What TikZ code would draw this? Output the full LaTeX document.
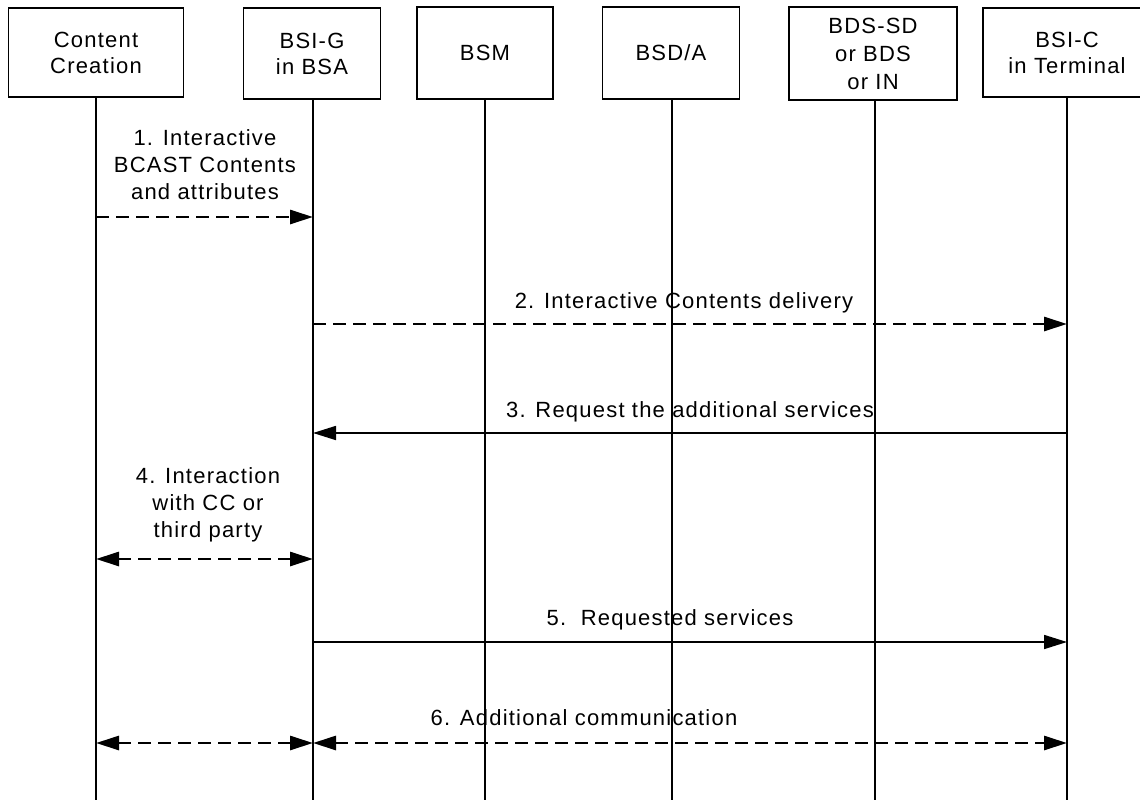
\documentclass[tikz,border=0pt]{standalone}
\usepackage{fontspec}
\setmainfont{Liberation Sans}[LetterSpace=5.5]
\usetikzlibrary{arrows.meta}
\tikzset{
  box/.style={draw, line width=1.9pt, inner sep=0pt, align=center,
    font=\fontsize{22}{26}\selectfont},
  life/.style={line width=1.8pt},
  tip/.style={-{Triangle[length=23pt,width=14pt]}},
  dtip/.style={{Triangle[length=23pt,width=14pt]}-{Triangle[length=23pt,width=14pt]}},
  msg/.style={line width=1.7pt},
  dmsg/.style={line width=2.8pt, dash pattern=on 13pt off 7pt},
  lbl/.style={inner sep=0pt, align=center, anchor=base,
    font=\fontsize{22}{27}\selectfont}
}
\begin{document}
\begin{tikzpicture}[x=1pt,y=-1pt]
\clip (0,0) rectangle (1140,800);
\useasboundingbox (0,0) rectangle (1140,800);
% boxes
\node[box, minimum width=175pt, minimum height=89pt] (cc) at (96,52.5) {Content\\Creation};
\node[box, minimum width=137pt, minimum height=91pt] (bsig) at (312,53.5) {BSI-G\\in BSA};
\node[box, minimum width=136pt, minimum height=92pt] (bsm) at (485,53) {BSM};
\node[box, minimum width=137pt, minimum height=92pt] (bsd) at (671,53) {BSD/A};
\node[box, minimum width=168pt, minimum height=93pt, font=\fontsize{22}{28}\selectfont] (bds) at (873,53.5) {BDS-SD\\or BDS\\or IN};
\node[box, minimum width=168pt, minimum height=89pt] (bsic) at (1067,52.5) {BSI-C\\in Terminal};
% lifeline ends
\coordinate (ccE) at (96,800);
\coordinate (bsigE) at (313,800);
\coordinate (bsmE) at (485,800);
\coordinate (bsdE) at (672,800);
\coordinate (bdsE) at (875,800);
\coordinate (bsicE) at (1067,800);
\draw[life] (96,0 |- cc.south) -- (ccE);
\draw[life] (313,0 |- bsig.south) -- (bsigE);
\draw[life] (485,0 |- bsm.south) -- (bsmE);
\draw[life] (672,0 |- bsd.south) -- (bsdE);
\draw[life] (875,0 |- bds.south) -- (bdsE);
\draw[life] (1067,0 |- bsic.south) -- (bsicE);
% message points
\coordinate (m1a) at (96,217);   \coordinate (m1b) at (313,217);
\coordinate (m2a) at (313,324);  \coordinate (m2b) at (1067,324);
\coordinate (m3a) at (1067,433); \coordinate (m3b) at (313,433);
\coordinate (m4a) at (96,559);   \coordinate (m4b) at (313,559);
\coordinate (m5a) at (313,642);  \coordinate (m5b) at (1067,642);
\coordinate (m6a) at (96,743);   \coordinate (m6b) at (313,743);
\coordinate (m6c) at (1067,743);
% messages
\draw[dmsg, tip] (m1a) -- (m1b);
\draw[dmsg, tip] (m2a) -- (m2b);
\draw[msg, tip] (m3a) -- (m3b);
\draw[dmsg, dtip] (m4a) -- (m4b);
\draw[msg, tip] (m5a) -- (m5b);
\draw[dmsg, dtip] (m6a) -- (m6b);
\draw[dmsg, dtip] (m6b) -- (m6c);
% labels
\node[lbl] (l1) at (205,199) {1. Interactive\\BCAST Contents\\and attributes};
\node[lbl] (l2) at (684,308) {2. Interactive Contents delivery};
\node[lbl] (l3) at (690,417) {3. Request the additional services};
\node[lbl] (l4) at (208,537) {4. Interaction\\with CC or\\third party};
\node[lbl] (l5) at (670,625) {5.\ \ Requested services};
\node[lbl] (l6) at (584,725) {6. Additional communication};
\end{tikzpicture}
\end{document}
